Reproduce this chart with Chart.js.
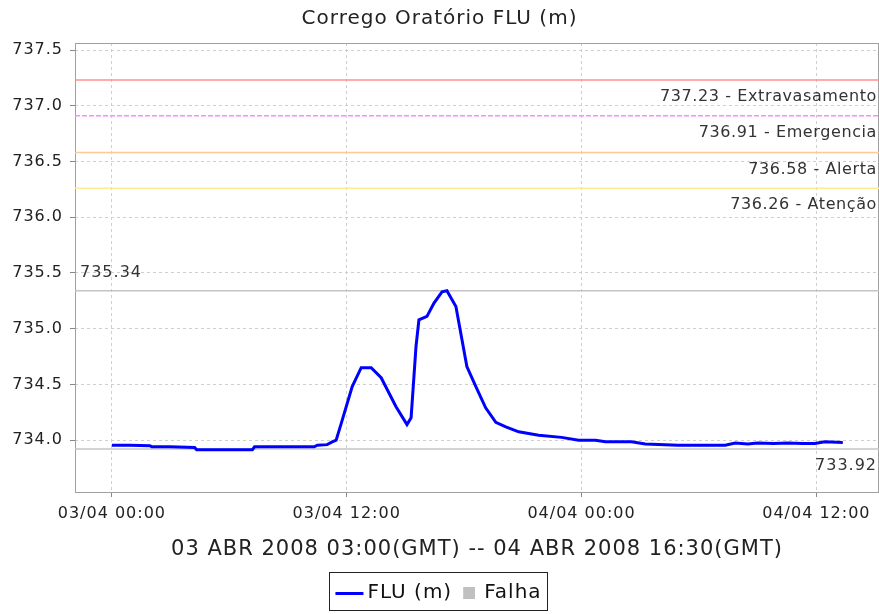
<!DOCTYPE html>
<html>
<head>
<meta charset="utf-8">
<script src="https://cdn.jsdelivr.net/npm/chart.js@4.4.0/dist/chart.umd.min.js"></script>
<style>
  html, body { margin: 0; padding: 0; background: #fff; }
</style>
</head>
<body>
<canvas id="floodChart" width="879" height="614"></canvas>
<script>
// hours after 03/04 00:00 (local) and water level in metres
const hours = [0, 0.92, 1.94, 2.04, 2.96, 4.23, 4.33, 5.76, 7.18, 7.29, 8.82, 10.34, 10.5, 11.0, 11.26, 11.46,
  11.77, 12.28, 12.74, 13.25, 13.76, 14.52, 15.08, 15.29, 15.54, 15.69, 16.10, 16.46, 16.87, 17.12,
  17.58, 17.89, 18.14, 18.6, 19.1, 19.62, 20.13, 20.79, 21.81, 22.98, 23.85, 24.71, 25.22, 26.55,
  27.26, 28.94, 29.96, 31.34, 31.85, 32.5, 33.0, 33.8, 34.55, 35.3, 35.92, 36.43, 37.35];
const levels = [733.955, 733.955, 733.95, 733.94, 733.94, 733.935, 733.915, 733.915, 733.915, 733.94, 733.94, 733.94, 733.955, 733.96, 733.985, 734.0,
  734.18, 734.48, 734.65, 734.65, 734.56, 734.30, 734.14, 734.20, 734.84, 735.08, 735.11, 735.23, 735.33, 735.34,
  735.20, 734.90, 734.66, 734.48, 734.29, 734.16, 734.12, 734.075, 734.045, 734.025, 734.0, 734.0, 733.985, 733.985,
  733.965, 733.955, 733.955, 733.955, 733.975, 733.965, 733.975, 733.97, 733.975, 733.97, 733.97, 733.985, 733.98];

const xTicks = [0, 12, 24, 36];
const xTickLabels = ['03/04 00:00', '03/04 12:00', '04/04 00:00', '04/04 12:00'];
const yTicks = [734.0, 734.5, 735.0, 735.5, 736.0, 736.5, 737.0, 737.5];

const limitValues = [737.23, 736.91, 736.58, 736.26];
const limitNames = ['Extravasamento', 'Emergencia', 'Alerta', 'Atenção'];
const limitColors = ['#ff8f8f', '#ff88ff', '#ffc895', '#ffeb90'];
const maxLevel = 735.34;
const minLevel = 733.92;

const xMin = -1.885, xMax = 39.2;
const yMin = 733.535, yMax = 737.563;

const FONT = '"DejaVu Sans", sans-serif';

// legend icons
function makeIcon(w, h, draw) {
    const c = document.createElement('canvas');
    c.width = w; c.height = h;
    draw(c.getContext('2d'));
    return c;
}
const lineIcon = makeIcon(40, 4, g => { g.fillStyle = '#0000ff'; g.fillRect(8, 1, 28, 3); });
const rectIcon = makeIcon(22, 12, g => { g.fillStyle = '#c0c0c0'; g.fillRect(10, 0, 12, 12); });

const levelLine = (v, color, dash) => ({
    data: [{ x: xMin, y: v }, { x: xMax, y: v }],
    borderColor: color,
    borderWidth: 1.5,
    borderDash: dash || [],
    pointRadius: 0
});

const datasets = [
    {
        label: 'FLU (m)',
        data: hours.map((h, i) => ({ x: h, y: levels[i] })),
        borderColor: '#0000ff',
        borderWidth: 3,
        pointRadius: 0,
        pointStyle: lineIcon,
        tension: 0
    },
    { label: 'Falha', data: [], borderColor: '#c0c0c0', backgroundColor: '#c0c0c0', pointStyle: rectIcon },
    levelLine(maxLevel, '#c4c4c4'),
    levelLine(minLevel, '#c4c4c4'),
    ...limitValues.map((v, i) => levelLine(v, limitColors[i], i === 1 ? [5, 2] : []))
];

// the reference text is widely spaced
const spacing = {
    id: 'spacing',
    beforeLayout(chart) { chart.ctx.letterSpacing = '1px'; },
    beforeDraw(chart) { chart.ctx.letterSpacing = '1px'; }
};

const extras = {
    id: 'extras',
    beforeDatasetsDraw(chart) {
        const { ctx, chartArea: a } = chart;
        ctx.save();
        ctx.strokeStyle = '#a0a0a0';
        ctx.lineWidth = 1;
        ctx.strokeRect(a.left + 0.5, a.top + 0.5, a.right - a.left - 1, a.bottom - a.top);
        ctx.restore();
    },
    afterDraw(chart) {
        const { ctx, chartArea: a, scales: { y } } = chart;
        ctx.save();
        ctx.fillStyle = '#333';
        ctx.textBaseline = 'middle';
        ctx.font = '16px ' + FONT;
        ctx.letterSpacing = '0.6px';
        ctx.textAlign = 'right';
        limitValues.forEach((v, i) => {
            ctx.fillText(v.toFixed(2) + ' - ' + limitNames[i], a.right - 2, y.getPixelForValue(v) + 17);
        });
        ctx.letterSpacing = '1px';
        ctx.fillText(minLevel.toFixed(2), a.right - 2, y.getPixelForValue(minLevel) + 17);
        ctx.textAlign = 'left';
        ctx.fillText(maxLevel.toFixed(2), a.left + 5, y.getPixelForValue(maxLevel) - 18);
        // legend frame
        const hb = chart.legend.legendHitBoxes;
        if (hb && hb.length) {
            const left = hb[0].left - 8, right = hb[hb.length - 1].left + hb[hb.length - 1].width + 6;
            ctx.strokeStyle = '#222';
            ctx.strokeRect(Math.round(left) + 0.5, 572.5, Math.round(right - left), 38);
        }
        ctx.restore();
    }
};

new Chart(document.getElementById('floodChart'), {
    type: 'line',
    data: { datasets },
    plugins: [spacing, extras],
    options: {
        responsive: false,
        animation: false,
        layout: { padding: { left: 0, right: 0, top: 0, bottom: 1 } },
        plugins: {
            title: {
                display: true,
                text: 'Corrego Oratório FLU (m)',
                color: '#222',
                font: { family: FONT, size: 20, weight: 'normal' },
                padding: { top: 7, bottom: 12 }
            },
            legend: {
                position: 'bottom',
                labels: {
                    usePointStyle: true,
                    color: '#111',
                    font: { family: FONT, size: 20 },
                    padding: 2,
                    filter: item => item.datasetIndex < 2
                }
            },
            tooltip: { enabled: false }
        },
        scales: {
            x: {
                type: 'linear',
                min: xMin,
                max: xMax,
                afterBuildTicks: s => { s.ticks = xTicks.map(v => ({ value: v })); },
                afterFit: s => { s.height = 89; },
                ticks: {
                    callback: (v) => xTickLabels[xTicks.indexOf(v)],
                    color: '#222',
                    font: { family: FONT, size: 16 },
                    maxRotation: 0,
                    padding: 7
                },
                grid: { color: '#cfcfcf', tickColor: '#888', tickBorderDash: [], tickLength: 5 },
                border: { display: false, dash: [3, 3] },
                title: {
                    display: true,
                    text: '03 ABR 2008 03:00(GMT) -- 04 ABR 2008 16:30(GMT)',
                    color: '#222',
                    font: { family: FONT, size: 21 },
                    padding: { top: 4, bottom: 19 }
                }
            },
            y: {
                min: yMin,
                max: yMax,
                afterBuildTicks: s => { s.ticks = yTicks.map(v => ({ value: v })); },
                afterFit: s => { s.width = 75; },
                ticks: {
                    callback: v => v.toFixed(1),
                    color: '#222',
                    font: { family: FONT, size: 16 },
                    padding: 7
                },
                grid: { color: '#cfcfcf', tickColor: '#888', tickBorderDash: [], tickLength: 5 },
                border: { display: false, dash: [3, 3] }
            }
        }
    }
});
</script>
</body>
</html>
